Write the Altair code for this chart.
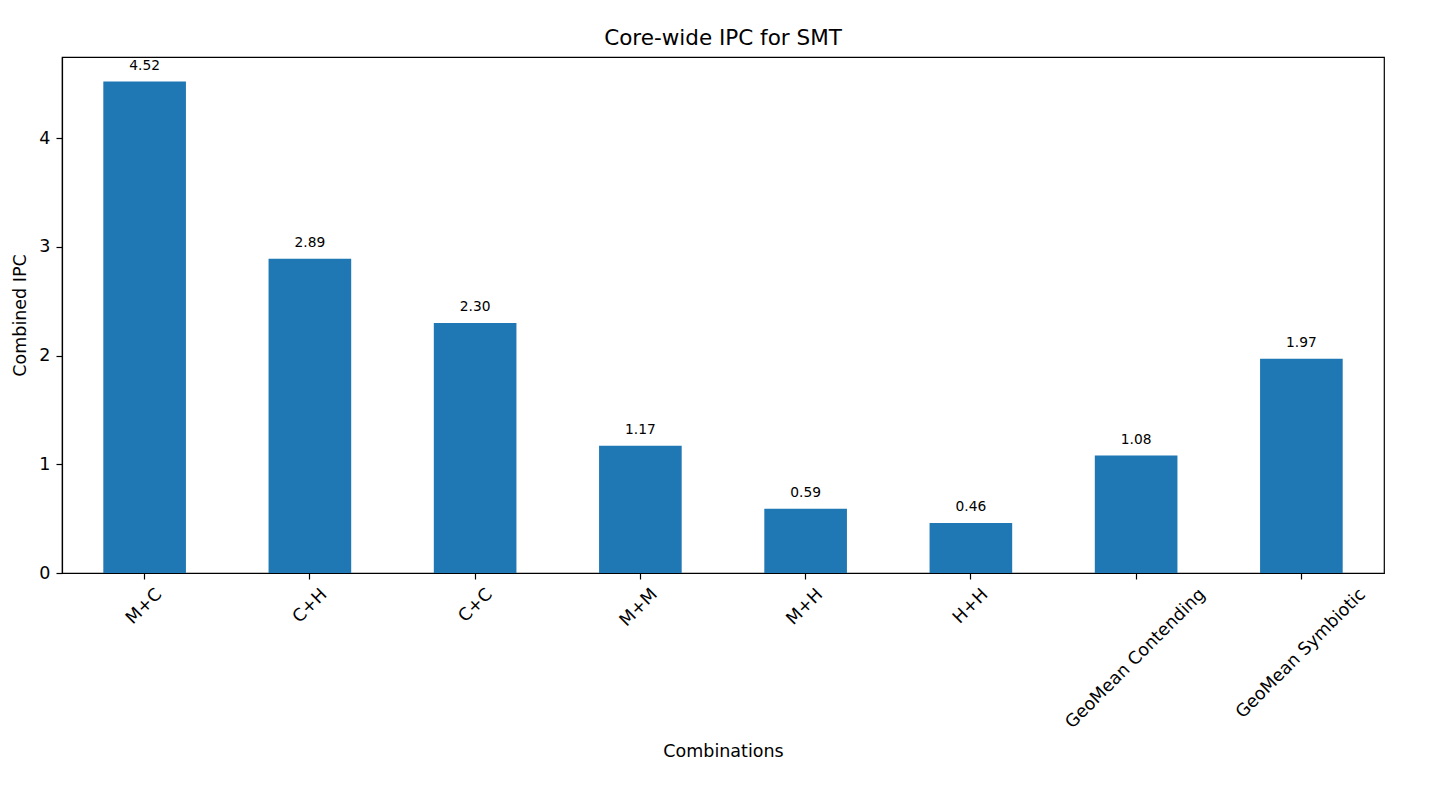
import altair as alt
import pandas as pd

categories = ["M+C", "C+H", "C+C", "M+M", "M+H", "H+H", "GeoMean Contending", "GeoMean Symbiotic"]
ipc_values = [4.52, 2.89, 2.30, 1.17, 0.59, 0.46, 1.08, 1.97]
y_ticks = [0, 1, 2, 3, 4]

df = pd.DataFrame({"combo": categories, "ipc": ipc_values})

FONT = "DejaVu Sans"
BLUE = "#1f77b4"

x_enc = alt.X(
    "combo:N",
    sort=None,
    scale=alt.Scale(paddingInner=0.5, paddingOuter=0.25),
    axis=alt.Axis(
        title="Combinations",
        titleFont=FONT, titleFontSize=17.5, titleFontWeight="normal", titleColor="black",
        titleY=183, titleBaseline="alphabetic",
        labelAngle=315, labelAlign="right", labelBaseline="top",
        labelFont=FONT, labelFontSize=17.5, labelColor="black",
        labelPadding=6, tickSize=6, tickWidth=1.2, tickColor="black",
        domainColor="black", domainWidth=1.2,
        labelOffset={"condition": [
            {"test": "datum.label == 'GeoMean Contending'", "value": 60},
            {"test": "datum.label == 'GeoMean Symbiotic'", "value": 55},
        ], "value": 8},
        labelOverlap=False, labelLimit=0,
    ),
)

y_enc = alt.Y(
    "ipc:Q",
    scale=alt.Scale(domain=[0, 4.746], nice=False, zero=True),
    axis=alt.Axis(
        title="Combined IPC", values=y_ticks, format="d",
        titleFont=FONT, titleFontSize=17.5, titleFontWeight="normal", titleColor="black",
        titleX=-37, titleY=258, titleBaseline="alphabetic", titleAngle=270,
        labelFont=FONT, labelFontSize=17.5, labelColor="black",
        labelPadding=6, tickSize=6, tickWidth=1.2, tickColor="black",
        domainColor="black", domainWidth=1.2, grid=False,
    ),
)

base = alt.Chart(df)
bars = base.mark_bar(color=BLUE).encode(x=x_enc, y=y_enc)
labels = base.mark_text(
    dy=-12, baseline="alphabetic", align="center",
    font=FONT, fontSize=13.8, color="black",
).encode(x=alt.X("combo:N", sort=None), y="ipc:Q", text=alt.Text("ipc:Q", format=".2f"))

chart = alt.layer(bars, labels).properties(
    width=1322,
    height=516,
    background="white",
    title=alt.TitleParams(
        "Core-wide IPC for SMT", font=FONT, fontSize=21.5, fontWeight="normal",
        color="black", anchor="middle", baseline="alphabetic", offset=11, dy=20,
    ),
    autosize=alt.AutoSizeParams(type="none"),
    padding={"left": 54, "top": 49, "right": 54, "bottom": 200},
).configure_view(
    stroke="black", strokeWidth=1.2
)

chart.save("out.html", embed_options={"renderer": "svg", "actions": False})
